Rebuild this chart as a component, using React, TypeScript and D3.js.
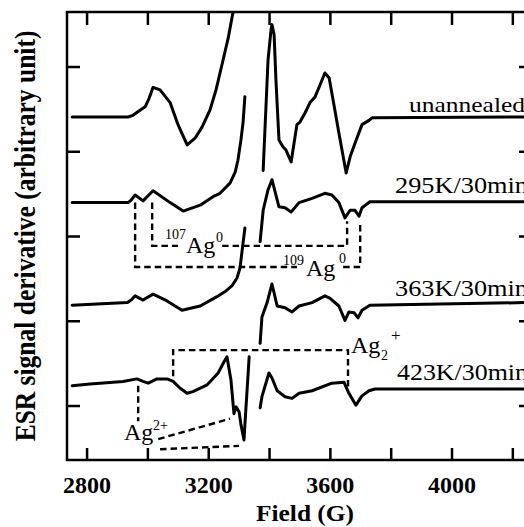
import React from "react";
import * as d3 from "d3";

// ---- data (field in G, signal in arbitrary units) ----
const xTicks = [2800, 3000, 3200, 3400, 3600, 3800, 4000, 4200];
const xTickLabels = [2800, 3200, 3600, 4000];
const yTicks = [0, 1, 2, 3, 4];

const unannealedA: [number, number][] = [
  [2751, 3.41], [2935, 3.41], [2951, 3.43], [2974, 3.49], [2991, 3.53], [3004, 3.63], [3017, 3.76],
  [3040, 3.73], [3073, 3.58], [3099, 3.32], [3129, 3.08], [3155, 3.16], [3178, 3.29], [3204, 3.49],
  [3224, 3.73], [3247, 4.08], [3264, 4.34], [3280, 4.65],
];
const unannealedB: [number, number][] = [
  [3379, 2.78], [3395, 4.08], [3405, 4.44], [3408, 4.5], [3415, 4.38], [3421, 3.85], [3431, 3.14],
  [3444, 3.06], [3454, 3.02], [3471, 2.88], [3490, 3.32], [3500, 3.35], [3517, 3.46], [3533, 3.58],
  [3550, 3.65], [3573, 3.85], [3582, 3.93], [3596, 3.87], [3612, 3.55], [3628, 3.22], [3652, 2.75],
  [3665, 2.94], [3681, 3.1], [3704, 3.32], [3727, 3.37], [3737, 3.4], [4237, 3.41],
];
const k295A: [number, number][] = [
  [2751, 2.4], [2935, 2.4], [2945, 2.43], [2958, 2.49], [2984, 2.42], [3017, 2.54], [3073, 2.4],
  [3116, 2.3], [3172, 2.37], [3214, 2.47], [3237, 2.51], [3270, 2.63], [3287, 2.76], [3296, 2.9],
  [3306, 3.14], [3313, 3.35], [3319, 3.65],
];
const k295B: [number, number][] = [
  [3369, 1.94], [3379, 2.31], [3395, 2.55], [3408, 2.67], [3431, 2.35], [3451, 2.34], [3471, 2.29],
  [3497, 2.4], [3540, 2.45], [3582, 2.51], [3605, 2.49], [3628, 2.4], [3648, 2.22], [3665, 2.31],
  [3681, 2.31], [3694, 2.24], [3704, 2.34], [3730, 2.41], [4237, 2.41],
];
const k363A: [number, number][] = [
  [2751, 1.19], [2932, 1.22], [2945, 1.25], [2958, 1.3], [2984, 1.25], [3017, 1.32], [3063, 1.24],
  [3112, 1.13], [3172, 1.18], [3227, 1.29], [3254, 1.35], [3277, 1.42], [3293, 1.51], [3303, 1.63],
  [3310, 1.84], [3319, 2.1],
];
const k363B: [number, number][] = [
  [3369, 0.74], [3375, 1.05], [3392, 1.22], [3408, 1.44], [3425, 1.18], [3451, 1.16], [3474, 1.11],
  [3497, 1.18], [3540, 1.22], [3582, 1.3], [3599, 1.27], [3628, 1.18], [3648, 1.01], [3661, 1.11],
  [3678, 1.1], [3691, 1.04], [3704, 1.13], [3730, 1.19], [4237, 1.22],
];
const k423A: [number, number][] = [
  [2751, 0.24], [2810, 0.26], [2918, 0.29], [2964, 0.32], [2984, 0.29], [3001, 0.27], [3030, 0.32],
  [3063, 0.32], [3083, 0.29], [3106, 0.21], [3129, 0.15], [3148, 0.17], [3195, 0.25], [3231, 0.39],
  [3250, 0.52], [3260, 0.58], [3273, 0.31], [3283, -0.09], [3290, -0.01], [3300, -0.07],
  [3306, -0.22], [3316, -0.4], [3323, 0.01], [3333, 0.58],
];
const k423B: [number, number][] = [
  [3369, -0.02], [3375, 0.11], [3398, 0.39], [3408, 0.33], [3425, 0.18], [3451, 0.11], [3474, 0.09],
  [3497, 0.15], [3540, 0.18], [3605, 0.27], [3645, 0.28], [3661, 0.15], [3684, 0.01], [3704, 0.12],
  [3727, 0.18], [3747, 0.2], [4237, 0.2],
];

const spectra = [unannealedA, unannealedB, k295A, k295B, k363A, k363B, k423A, k423B];

const seriesLabels = ["unannealed", "295K/30min", "363K/30min", "423K/30min"];

// dashed assignment guides
const guide107a: [number, number][] = [[3014, 2.4], [3014, 1.89], [3099, 1.89]];
const guide107b: [number, number][] = [[3244, 1.89], [3655, 1.89], [3655, 2.18]];
const guide109a: [number, number][] = [[2958, 2.4], [2958, 1.64], [3490, 1.64]];
const guide109b: [number, number][] = [[3642, 1.64], [3698, 1.64], [3698, 2.15]];
const guideDimer: [number, number][] = [[3083, 0.35], [3083, 0.66], [3658, 0.66], [3658, 0.22]];
const guideIonV: [number, number][] = [[2968, 0.24], [2968, -0.18]];
const guideIon1: [number, number][] = [[3034, -0.39], [3270, -0.15]];
const guideIon2: [number, number][] = [[3040, -0.51], [3300, -0.47]];
const guides = [guide107a, guide107b, guide109a, guide109b, guideDimer, guideIonV, guideIon1, guideIon2];

// ---- layout ----
const W = 524, H = 527;
const L = 67, R = 532, T = 12, B = 460;
const serif = "'Liberation Serif', 'Times New Roman', 'DejaVu Serif', serif";

export default function App() {
  const x = d3.scaleLinear().domain([2734, 4263]).range([L, R]);
  const y = d3.scaleLinear().domain([-0.637, 4.649]).range([B, T]);
  const line = d3.line<[number, number]>().x(d => x(d[0])).y(d => y(d[1]));

  const labelPos: [number, number, number][] = [
    [409, 112, 116],
    [395, 193, 133],
    [395, 296, 133],
    [397, 380, 131],
  ];

  return (
    <svg width={W} height={H} style={{ position: "absolute", left: 0, top: 0, background: "#fff" }}
      fontFamily={serif}>
      <defs>
        <clipPath id="plot"><rect x={L} y={T} width={R - L} height={B - T} /></clipPath>
      </defs>
      <rect x={0} y={0} width={W} height={H} fill="#fff" />
      <g clipPath="url(#plot)">
        {spectra.map((s, i) => (
          <path key={i} d={line(s) || ""} fill="none" stroke="#000" strokeWidth={3}
            strokeLinejoin="round" strokeLinecap="round" />
        ))}
        {guides.map((g, i) => (
          <path key={"g" + i} d={line(g) || ""} fill="none" stroke="#000" strokeWidth={2.4}
            strokeDasharray="6.5,4" />
        ))}
      </g>
      {/* frame */}
      <rect x={L} y={T} width={R - L} height={B - T} fill="none" stroke="#000" strokeWidth={2.5} />
      {xTicks.map(t => (
        <g key={"x" + t}>
          <line x1={x(t)} x2={x(t)} y1={B} y2={B - 12} stroke="#000" strokeWidth={2.5} />
          <line x1={x(t)} x2={x(t)} y1={T} y2={T + 13} stroke="#000" strokeWidth={2.5} />
        </g>
      ))}
      {yTicks.map(t => (
        <g key={"y" + t}>
          <line x1={L} x2={L + 13} y1={y(t)} y2={y(t)} stroke="#000" strokeWidth={2.5} />
          <line x1={R} x2={R - 13} y1={y(t)} y2={y(t)} stroke="#000" strokeWidth={2.5} />
        </g>
      ))}
      {xTickLabels.map(t => (
        <text key={"xl" + t} x={x(t)} y={493} textAnchor="middle" fontSize={24} fontWeight="bold">{t}</text>
      ))}
      <text x={305} y={521} textAnchor="middle" fontSize={24} fontWeight="bold" textLength={98}
        lengthAdjust="spacingAndGlyphs">Field (G)</text>
      <text transform="translate(35,236) scale(1.16,1) rotate(-90)" textAnchor="middle" fontSize={25.5}
        fontWeight="bold">ESR signal derivative (arbitrary unit)</text>

      {seriesLabels.map((s, i) => (
        <text key={s} x={labelPos[i][0]} y={labelPos[i][1]} fontSize={i === 0 ? 22 : 24}
          textLength={labelPos[i][2]} lengthAdjust="spacingAndGlyphs">{s}</text>
      ))}

      {/* assignment labels */}
      <text x={165} y={239} fontSize={14}>107</text>
      <text x={186} y={253} fontSize={24}>Ag</text>
      <text x={216} y={242} fontSize={14}>0</text>

      <text x={283} y={265} fontSize={14}>109</text>
      <text x={306} y={276} fontSize={24}>Ag</text>
      <text x={339} y={263} fontSize={14}>0</text>

      <text x={351} y={353} fontSize={24}>Ag</text>
      <text x={381} y={360} fontSize={14}>2</text>
      <text x={391} y={341} fontSize={17}>+</text>

      <text x={124} y={440} fontSize={24}>Ag</text>
      <text x={153} y={430} fontSize={14}>2+</text>
    </svg>
  );
}
